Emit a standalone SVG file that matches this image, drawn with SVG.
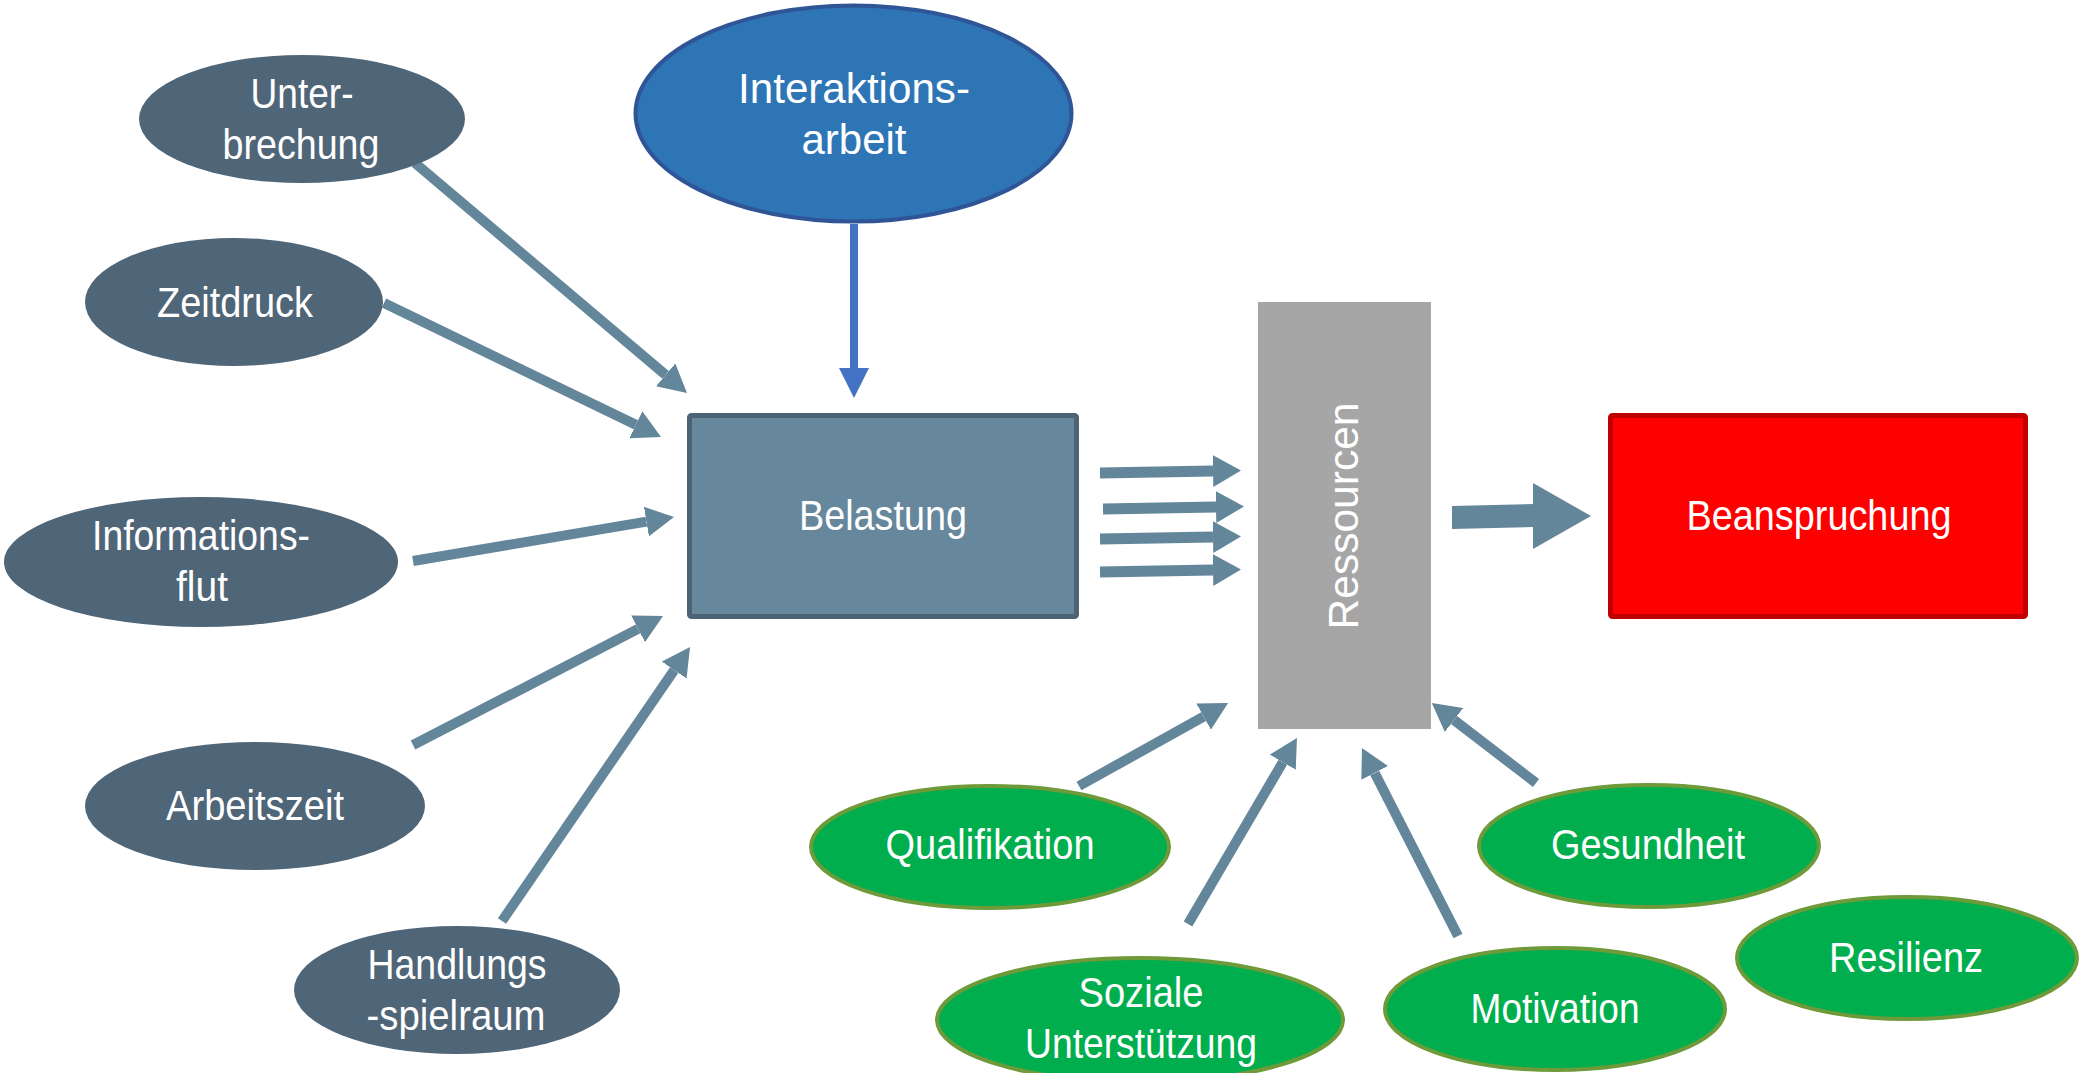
<svg xmlns="http://www.w3.org/2000/svg" width="2083" height="1073" viewBox="0 0 2083 1073">
<style>
text{font-family:"Liberation Sans",Arial,sans-serif;font-size:42px;fill:#FFFFFF;text-anchor:middle}
.dark{fill:#4F6578}
.green{fill:#00AE4E;stroke:#6E9A3A;stroke-width:4}
.conn{stroke:#63869B;stroke-width:10;fill:none;marker-end:url(#head)}
.conn2{stroke:#63869B;stroke-width:11;fill:none;marker-end:url(#head2)}
</style>
<defs>
<marker id="head" markerUnits="userSpaceOnUse" viewBox="0 0 28 30" markerWidth="28" markerHeight="30" refX="0" refY="15" orient="auto"><path d="M0,0 L28,15 L0,30 z" fill="#63869B"/></marker>
<marker id="head2" markerUnits="userSpaceOnUse" viewBox="0 0 28 32" markerWidth="28" markerHeight="32" refX="0" refY="16" orient="auto"><path d="M0,0 L28,16 L0,32 z" fill="#63869B"/></marker>
<marker id="headblue" markerUnits="userSpaceOnUse" viewBox="0 0 30 30" markerWidth="30" markerHeight="30" refX="0" refY="15" orient="auto"><path d="M0,0 L30,15 L0,30 z" fill="#4472C4"/></marker>
</defs>

<g id="connectors">
<line class="conn" x1="415" y1="163" x2="665.6" y2="374.9"/>
<line class="conn" x1="384" y1="303" x2="635.8" y2="424.8"/>
<line class="conn" x1="413" y1="561" x2="646.4" y2="521.6"/>
<line class="conn" x1="413" y1="745" x2="638.1" y2="628.9"/>
<line class="conn" x1="502" y1="921" x2="674.2" y2="670.1"/>
<line x1="854" y1="224" x2="854" y2="368" stroke="#4472C4" stroke-width="8" marker-end="url(#headblue)"/>
<line class="conn2" x1="1100" y1="473" x2="1213" y2="471"/>
<line class="conn2" x1="1103" y1="509" x2="1216" y2="507"/>
<line class="conn2" x1="1100" y1="539" x2="1213" y2="537"/>
<line class="conn2" x1="1100" y1="572" x2="1213" y2="570"/>
<polygon points="1452,506 1533,504 1533,483 1591,516 1533,549 1533,527 1452,529" fill="#63869B"/>
<line class="conn" x1="1079" y1="786" x2="1203.6" y2="716.6"/>
<line class="conn" x1="1188" y1="924" x2="1282.8" y2="762.2"/>
<line class="conn" x1="1458" y1="936" x2="1374.7" y2="772.9"/>
<line class="conn" x1="1536" y1="783" x2="1454" y2="720"/>
</g>

<g id="unterbrechung">
<ellipse class="dark" cx="302" cy="119" rx="163" ry="64"/>
<text x="302" y="108" textLength="103" lengthAdjust="spacingAndGlyphs">Unter-</text>
<text x="301" y="159" textLength="157" lengthAdjust="spacingAndGlyphs">brechung</text>
</g>
<g id="zeitdruck">
<ellipse class="dark" cx="234" cy="302" rx="149" ry="64"/>
<text x="235" y="317" textLength="156" lengthAdjust="spacingAndGlyphs">Zeitdruck</text>
</g>
<g id="informationsflut">
<ellipse class="dark" cx="201" cy="562" rx="197" ry="65"/>
<text x="201" y="550" textLength="218" lengthAdjust="spacingAndGlyphs">Informations-</text>
<text x="202" y="601" textLength="52" lengthAdjust="spacingAndGlyphs">flut</text>
</g>
<g id="arbeitszeit">
<ellipse class="dark" cx="255" cy="806" rx="170" ry="64"/>
<text x="255" y="820" textLength="178" lengthAdjust="spacingAndGlyphs">Arbeitszeit</text>
</g>
<g id="handlungsspielraum">
<ellipse class="dark" cx="457" cy="990" rx="163" ry="64"/>
<text x="457" y="979" textLength="179" lengthAdjust="spacingAndGlyphs">Handlungs</text>
<text x="456" y="1030" textLength="179" lengthAdjust="spacingAndGlyphs">-spielraum</text>
</g>
<g id="interaktionsarbeit">
<ellipse cx="853.5" cy="113.5" rx="218" ry="108" fill="#2E75B6" stroke="#2F5597" stroke-width="4"/>
<text x="854" y="103" textLength="232" lengthAdjust="spacingAndGlyphs">Interaktions-</text>
<text x="854" y="154" textLength="105" lengthAdjust="spacingAndGlyphs">arbeit</text>
</g>
<g id="belastung">
<rect x="689.5" y="415.5" width="387" height="201" rx="2" fill="#67879C" stroke="#4C6275" stroke-width="5"/>
<text x="883" y="530" textLength="168" lengthAdjust="spacingAndGlyphs">Belastung</text>
</g>
<g id="ressourcen">
<rect x="1258" y="302" width="173" height="427" fill="#A6A6A6"/>
<text transform="translate(1358,516) rotate(-90)" x="0" y="0" fill="#F2F2F2" textLength="227" lengthAdjust="spacingAndGlyphs">Ressourcen</text>
</g>
<g id="beanspruchung">
<rect x="1610.5" y="415.5" width="415" height="201" rx="2" fill="#FF0000" stroke="#C00000" stroke-width="5"/>
<text x="1819" y="530" textLength="265" lengthAdjust="spacingAndGlyphs">Beanspruchung</text>
</g>
<g id="qualifikation">
<ellipse class="green" cx="990" cy="847" rx="179" ry="61"/>
<text x="990" y="859" textLength="209" lengthAdjust="spacingAndGlyphs">Qualifikation</text>
</g>
<g id="soziale-unterstuetzung">
<ellipse class="green" cx="1140" cy="1020" rx="203" ry="62"/>
<text x="1141" y="1007" textLength="125" lengthAdjust="spacingAndGlyphs">Soziale</text>
<text x="1141" y="1058" textLength="232" lengthAdjust="spacingAndGlyphs">Unterstützung</text>
</g>
<g id="motivation">
<ellipse class="green" cx="1555" cy="1009" rx="170" ry="61"/>
<text x="1555" y="1023" textLength="169" lengthAdjust="spacingAndGlyphs">Motivation</text>
</g>
<g id="gesundheit">
<ellipse class="green" cx="1649" cy="846" rx="170" ry="61"/>
<text x="1648" y="859" textLength="194" lengthAdjust="spacingAndGlyphs">Gesundheit</text>
</g>
<g id="resilienz">
<ellipse class="green" cx="1907" cy="958" rx="170" ry="61"/>
<text x="1906" y="972" textLength="154" lengthAdjust="spacingAndGlyphs">Resilienz</text>
</g>
</svg>
